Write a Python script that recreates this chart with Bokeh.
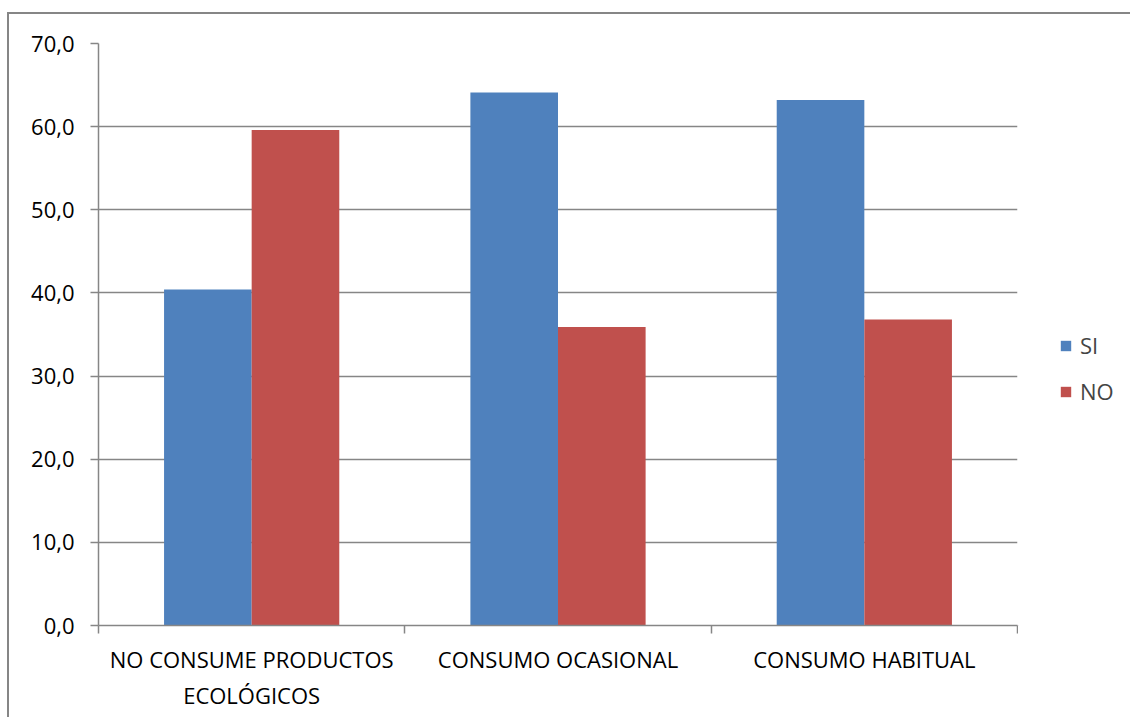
from bokeh.plotting import figure
from bokeh.layouts import row
from bokeh.models import Range1d, FixedTicker, Legend, LegendItem, ColumnDataSource
from bokeh.embed import file_html
from bokeh.resources import INLINE
import numpy as np

# Survey shares (%) by consumption group
categories = ["NO CONSUME PRODUCTOS\nECOLÓGICOS", "CONSUMO OCASIONAL", "CONSUMO HABITUAL"]
si_values = [40.4, 64.1, 63.2]
no_values = [59.6, 35.9, 36.8]
series_names = ["SI", "NO"]
y_ticks = [0, 10, 20, 30, 40, 50, 60, 70]

FONT = "Open Sans"
GRAY = "#868686"
BLUE = "#4F81BD"
RED = "#C0504D"
COLORS = [BLUE, RED]

centers = np.arange(len(categories)) + 0.5
bar_w = 0.286

src = ColumnDataSource(dict(
    x_si=centers - bar_w / 2,
    x_no=centers + bar_w / 2,
    si=si_values,
    no=no_values,
))

p = figure(width=1009, height=703, output_backend="svg", toolbar_location=None,
           x_range=Range1d(0, len(categories)), y_range=Range1d(0, 70),
           min_border_left=89, min_border_right=1, min_border_top=29,
           min_border_bottom=92)
p.outline_line_color = None
p.background_fill_color = "white"
p.border_fill_color = "white"

p.vbar(x="x_si", top="si", width=bar_w, source=src, fill_color=BLUE, line_color=None)
p.vbar(x="x_no", top="no", width=bar_w, source=src, fill_color=RED, line_color=None)

# x axis: labels at group centres, boundary ticks between groups
xa = p.xaxis[0]
xa.ticker = FixedTicker(ticks=list(centers), minor_ticks=list(range(len(categories) + 1)))
xa.major_label_overrides = {float(c): lab for c, lab in zip(centers, categories)}
xa.major_tick_out = 0
xa.major_tick_in = 0
xa.minor_tick_out = 8
xa.minor_tick_in = 0
xa.minor_tick_line_color = GRAY
xa.axis_line_color = GRAY
xa.axis_line_width = 1.5
xa.minor_tick_line_width = 1.5
xa.major_label_text_font = FONT
xa.major_label_text_font_size = "22px"
xa.major_label_text_color = "black"
xa.major_label_standoff = 10

ya = p.yaxis[0]
ya.ticker = FixedTicker(ticks=y_ticks)
ya.major_label_overrides = {v: f"{v:.1f}".replace(".", ",") for v in y_ticks}
ya.major_tick_out = 8
ya.major_tick_in = 0
ya.minor_tick_out = 0
ya.minor_tick_in = 0
ya.major_tick_line_color = GRAY
ya.major_tick_line_width = 1.5
ya.axis_line_color = GRAY
ya.axis_line_width = 1.5
ya.major_label_text_font = FONT
ya.major_label_text_font_size = "22px"
ya.major_label_text_color = "black"
ya.major_label_standoff = 16

p.xgrid.grid_line_color = None
p.ygrid.ticker = FixedTicker(ticks=y_ticks)
p.ygrid.grid_line_color = GRAY
p.ygrid.grid_line_width = 1.5

# legend panel to the right of the chart
lg = figure(width=112, height=703, output_backend="svg", toolbar_location=None,
            x_range=Range1d(0, 1), y_range=Range1d(0, 1),
            min_border_left=0, min_border_right=0, min_border_top=0,
            min_border_bottom=0)
lg.axis.visible = False
lg.grid.visible = False
lg.outline_line_color = None
lg.border_fill_color = "white"
items = []
for name, color in zip(series_names, COLORS):
    # swatch renderers sit outside the visible range; only their legend entries show
    r = lg.vbar(x=[-5], top=[-5], bottom=[-6], width=0.1, fill_color=color, line_color=None)
    items.append(LegendItem(label=name, renderers=[r]))

legend = Legend(items=items, location=(41, 219), orientation="vertical",
                glyph_width=13, glyph_height=13, label_height=22, spacing=16,
                label_text_font=FONT, label_text_font_size="22px",
                label_standoff=8, border_line_color=None,
                background_fill_alpha=0, padding=0, margin=0)
lg.add_layout(legend, "center")

layout = row(p, lg, spacing=0)
layout.styles = {"border-left": f"2px solid {GRAY}", "border-top": f"2px solid {GRAY}",
                 "margin-left": "7px", "margin-top": "12px"}

open("out.html", "w").write(file_html(layout, INLINE))
